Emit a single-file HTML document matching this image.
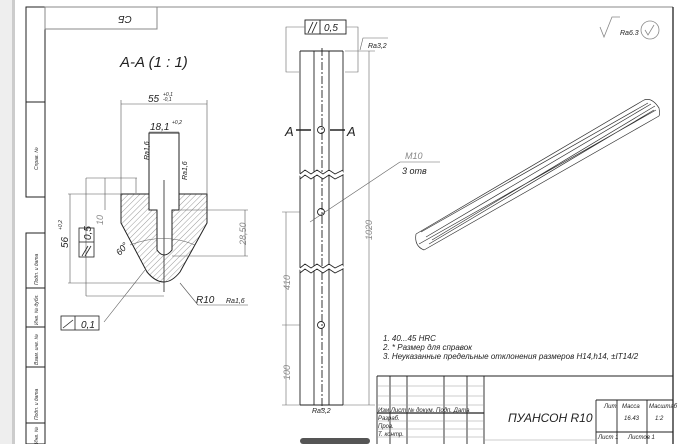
<!DOCTYPE html>
<html><head><meta charset="utf-8"><style>
html,body{margin:0;padding:0;background:#fff;}
svg{display:block;font-family:"Liberation Sans",sans-serif;font-style:italic;}
</style></head><body>
<svg width="681" height="444" viewBox="0 0 681 444" xmlns="http://www.w3.org/2000/svg">
<defs>
<pattern id="h" width="4" height="4" patternUnits="userSpaceOnUse" patternTransform="rotate(45)">
<line x1="0" y1="0" x2="0" y2="4" stroke="#555" stroke-width="0.6"/></pattern>
</defs>
<rect x="0" y="0" width="15" height="444" fill="#eee"/>
<rect x="12" y="0" width="3" height="444" fill="#ccc"/>
<g fill="none" stroke="#222" stroke-width="1">
<!-- frame -->
<line x1="26" y1="7" x2="673" y2="7" stroke="#888"/>
<line x1="45" y1="7" x2="45" y2="444"/>
<line x1="673" y1="7" x2="673" y2="444" stroke-width="1.3"/>
<rect x="26" y="7" width="19" height="190"/>
<line x1="26" y1="102" x2="45" y2="102"/>
<rect x="26" y="233" width="19" height="211"/>
<line x1="26" y1="288" x2="45" y2="288"/>
<line x1="26" y1="327" x2="45" y2="327"/>
<line x1="26" y1="367" x2="45" y2="367"/>
<line x1="26" y1="423" x2="45" y2="423"/>
<rect x="45" y="7" width="112" height="22" stroke="#888"/>
</g>
<g font-size="5" fill="#333">
<text transform="translate(38,170) rotate(-90)">Справ. №</text>
<text transform="translate(38,285) rotate(-90)">Подп. и дата</text>
<text transform="translate(38,325) rotate(-90)">Инв. № дубл.</text>
<text transform="translate(38,365) rotate(-90)">Взам. инв. №</text>
<text transform="translate(38,420) rotate(-90)">Подп. и дата</text>
<text transform="translate(38,444) rotate(-90)">Инв. №</text>
</g>
<text transform="translate(125,16) rotate(180)" font-size="10" text-anchor="middle" fill="#222">СБ</text>
<text x="120" y="67" font-size="15" fill="#222">A-A (1 : 1)</text>

<!-- section -->
<path d="M121,194 H149 V210 H157 V250 Q164,260 172,250 V210 H179 V194 H207 V223 L180,272 Q164,292 147,272 L121,223 Z" fill="url(#h)" stroke="#222"/>
<path d="M149,194 V133 H179 V194" fill="none" stroke="#222"/>
<line x1="164" y1="180" x2="164" y2="292" stroke="#222" stroke-width="0.8"/>
<g stroke="#555" stroke-width="0.6" fill="none">
<line x1="121" y1="194" x2="121" y2="100"/><line x1="207" y1="194" x2="207" y2="100"/>
<line x1="121" y1="104" x2="207" y2="104"/>
<line x1="149" y1="132" x2="179" y2="132"/>
<line x1="68" y1="194" x2="121" y2="194"/><line x1="68" y1="283" x2="160" y2="283"/>
<line x1="70" y1="194" x2="70" y2="283"/>
<line x1="86" y1="178" x2="137" y2="178"/><line x1="86" y1="178" x2="86" y2="296"/><line x1="86" y1="296" x2="164" y2="296"/>
<line x1="136" y1="178" x2="136" y2="193"/>
<line x1="105" y1="178" x2="105" y2="210"/>
<line x1="180" y1="210" x2="248" y2="210"/><line x1="172" y1="256" x2="248" y2="256"/>
<line x1="245" y1="210" x2="245" y2="256"/>
<path d="M130,245 Q164,232 195,245"/>
<line x1="104" y1="322" x2="145" y2="270"/>
<line x1="180" y1="283" x2="198" y2="305"/><line x1="198" y1="305" x2="248" y2="305"/>
</g>
<g fill="#222">
<text x="148" y="102" font-size="10">55</text><text x="163" y="96" font-size="5">+0,1</text><text x="163" y="101" font-size="5">-0,1</text>
<text x="150" y="130" font-size="10">18,1</text><text x="172" y="124" font-size="5">+0,2</text>
<text transform="translate(149,160) rotate(-90)" font-size="7">Ra1,6</text>
<text transform="translate(187,180) rotate(-90)" font-size="7">Ra1,6</text>
<text transform="translate(68,248) rotate(-90)" font-size="10">56</text><text transform="translate(62,230) rotate(-90)" font-size="5">+0,2</text>
<text transform="translate(103,225) rotate(-90)" font-size="9" fill="#888">10</text>
<text transform="translate(246,245) rotate(-90)" font-size="9" fill="#888">28,50</text>
<text transform="translate(120,256) rotate(-50)" font-size="9">60°</text>
<text x="196" y="303" font-size="10">R10</text><text x="226" y="303" font-size="7">Ra1,6</text>
<text x="81" y="328" font-size="10">0,1</text>
</g>
<g stroke="#222" fill="none" stroke-width="0.8">
<rect x="79" y="228" width="15" height="29"/><line x1="79" y1="242" x2="94" y2="242"/>
<line x1="82" y1="256" x2="88" y2="246"/><line x1="85" y1="256" x2="91" y2="246"/>
<rect x="61" y="316" width="38" height="14"/><line x1="75" y1="316" x2="75" y2="330"/><line x1="63" y1="328" x2="73" y2="320"/>
</g>
<text transform="translate(91,240) rotate(-90)" font-size="10" fill="#222">0,5</text>

<!-- long view -->
<g stroke="#222" fill="none" stroke-width="0.9">
<line x1="300" y1="51" x2="300" y2="405"/><line x1="343" y1="51" x2="343" y2="405"/>
<line x1="314" y1="51" x2="314" y2="405"/><line x1="329" y1="51" x2="329" y2="405"/>
<line x1="300" y1="51" x2="343" y2="51"/><line x1="300" y1="405" x2="343" y2="405"/>
<line x1="322" y1="48" x2="322" y2="410" stroke-dasharray="8,2,2,2"/>
<circle cx="321" cy="130" r="3.5"/><circle cx="321" cy="212" r="3.5"/><circle cx="321" cy="325" r="3.5"/>
<path d="M300,176 l5,-4 l6,4 l6,-4 l6,4 l6,-4 l6,4 l8,-4" stroke="#fff" stroke-width="4"/>
<path d="M300,174 l5,-4 l6,4 l6,-4 l6,4 l6,-4 l6,4 l8,-4"/>
<path d="M300,179 l5,-4 l6,4 l6,-4 l6,4 l6,-4 l6,4 l8,-4"/>
<path d="M300,270 l5,-4 l6,4 l6,-4 l6,4 l6,-4 l6,4 l8,-4" stroke="#fff" stroke-width="4"/>
<path d="M300,268 l5,-4 l6,4 l6,-4 l6,4 l6,-4 l6,4 l8,-4"/>
<path d="M300,273 l5,-4 l6,4 l6,-4 l6,4 l6,-4 l6,4 l8,-4"/>
<line x1="296" y1="130" x2="311" y2="130" stroke-width="1.5"/><line x1="330" y1="130" x2="345" y2="130" stroke-width="1.5"/>
<rect x="305" y="20" width="41" height="14"/><line x1="320" y1="20" x2="320" y2="34"/>
<line x1="308" y1="33" x2="313" y2="22"/><line x1="312" y1="33" x2="317" y2="22"/>
</g>
<g stroke="#666" fill="none" stroke-width="0.6">
<path d="M305,27 H286 V72 H299"/><path d="M346,27 H358 V72 H345"/>
<line x1="345" y1="51" x2="375" y2="51"/><line x1="369" y1="51" x2="369" y2="405"/>
<line x1="343" y1="405" x2="375" y2="405"/>
<line x1="282" y1="212" x2="300" y2="212"/><line x1="282" y1="325" x2="300" y2="325"/>
<line x1="286" y1="212" x2="286" y2="405"/><line x1="282" y1="405" x2="300" y2="405"/>
<line x1="310" y1="222" x2="400" y2="162"/><line x1="400" y1="162" x2="440" y2="162"/>
<path d="M360,50 l3,-12 h25"/>
</g>
<g fill="#222">
<text x="324" y="31" font-size="10">0,5</text>
<text x="368" y="48" font-size="7">Ra3,2</text>
<text x="285" y="136" font-size="13">A</text><text x="347" y="136" font-size="13">A</text>
<text x="405" y="159" font-size="9" fill="#888">M10</text>
<text x="402" y="174" font-size="9">3 отв</text>
<text transform="translate(372,240) rotate(-90)" font-size="9" fill="#888">1020</text>
<text transform="translate(290,290) rotate(-90)" font-size="9" fill="#888">410</text>
<text transform="translate(290,380) rotate(-90)" font-size="9" fill="#888">100</text>
<text x="312" y="413" font-size="7">Ra3,2</text>
<text x="620" y="35" font-size="7">Ra6.3</text>
</g>
<g stroke="#888" fill="none" stroke-width="0.8">
<path d="M600,27 l4,10 l8,-20 h8"/>
<circle cx="650" cy="30" r="9"/><path d="M645,30 l3,5 l6,-10"/>
</g>
<!-- iso bar -->
<g stroke="#333" fill="none" stroke-width="0.7">
<path d="M416,234 L644,100 M421,232 L648,103 M426,237 L651,104 M432,240 L655,106 M424,250 L659,116 M419,244 L656,110 M429,244 L654,110"/>
<path d="M416,234 Q414,246 424,250"/>
<path d="M644,100 Q652,97 659,108 Q660,114 659,116"/>
</g>
<!-- notes -->
<g fill="#222" font-size="8">
<text x="383" y="341">1. 40...45 HRC</text>
<text x="383" y="350">2. * Размер для справок</text>
<text x="383" y="359">3. Неуказанные  предельные отклонения размеров H14,h14, ±IT14/2</text>
</g>
<!-- title block -->
<g stroke="#222" fill="none" stroke-width="0.9">
<line x1="377" y1="376" x2="673" y2="376"/><line x1="377" y1="376" x2="377" y2="444"/>
<line x1="390" y1="376" x2="390" y2="444"/><line x1="407" y1="376" x2="407" y2="444"/>
<line x1="444" y1="376" x2="444" y2="444"/><line x1="467" y1="376" x2="467" y2="444"/>
<line x1="484" y1="376" x2="484" y2="444"/>
<line x1="596" y1="400" x2="596" y2="444"/><line x1="596" y1="400" x2="673" y2="400"/>
<line x1="617" y1="400" x2="617" y2="444"/><line x1="647" y1="400" x2="647" y2="444"/>
<line x1="596" y1="432" x2="673" y2="432"/>
<line x1="377" y1="413" x2="484" y2="413" stroke-width="1.3"/>
</g>
<g stroke="#999" stroke-width="0.5">
<line x1="377" y1="386" x2="484" y2="386"/><line x1="377" y1="396" x2="484" y2="396"/>
<line x1="377" y1="405" x2="484" y2="405"/><line x1="377" y1="421" x2="484" y2="421"/>
<line x1="377" y1="429" x2="484" y2="429"/><line x1="377" y1="437" x2="484" y2="437"/>
<line x1="484" y1="440" x2="596" y2="440"/>
</g>
<g fill="#222" font-size="6">
<text x="378" y="412">Изм Лист  № докум.   Подп.  Дата</text>
<text x="378" y="420">Разраб.</text><text x="378" y="428">Пров.</text><text x="378" y="436">Т. контр.</text>
<text x="604" y="408">Лит.</text><text x="622" y="408">Масса</text><text x="649" y="408">Масштаб</text>
<text x="624" y="420">16.43</text><text x="655" y="420">1:2</text>
<text x="598" y="439">Лист 1</text><text x="628" y="439">Листов 1</text>
</g>
<text x="508" y="422" font-size="12" fill="#222">ПУАНСОН R10</text>
<rect x="300" y="438" width="70" height="6" fill="#555" rx="3"/>
</svg>
</body></html>
